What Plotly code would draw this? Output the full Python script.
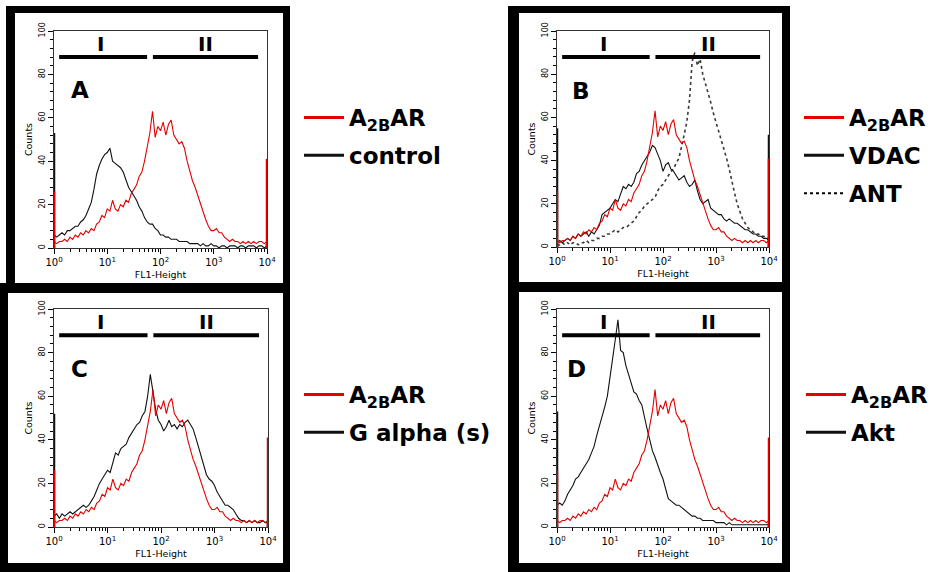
import math
import plotly.graph_objects as go

W, H = 942, 572

# histogram channels: positions in log10(FL1-Height), 0.05-decade bins
LOG_STEP = 0.05
N_BINS = 81

A2BAR = [3, 2, 3, 3, 4, 3, 5, 4, 6, 5, 7, 6, 8, 7, 9, 8, 11, 12, 15, 14,
         18, 17, 22, 18, 17, 20, 19, 22, 21, 25, 27, 29, 33, 35, 40, 46, 53, 63, 51, 56,
         54, 58, 52, 57, 59, 52, 50, 48, 49, 46, 40, 35, 31, 28, 24, 20, 17, 13, 10, 8,
         8, 9, 7, 7, 5, 4, 3, 4, 3, 3, 2, 3, 2, 3, 2, 3, 2, 3, 3, 2, 3]
CONTROL = [6, 5, 6, 7, 6, 8, 8, 9, 10, 10, 12, 13, 15, 18, 21, 27, 34, 38, 41, 43,
           44, 46, 40, 39, 38, 37, 35, 31, 28, 26, 24, 22, 19, 17, 14, 12, 11, 11, 9, 8,
           6, 6, 5, 5, 4, 4, 4, 3, 3, 3, 3, 2, 2, 2, 2, 1, 2, 1, 1, 2,
           1, 1, 0, 1, 1, 0, 1, 1, 1, 0, 1, 1, 0, 1, 1, 1, 0, 1, 1, 0, 1]
VDAC = [2, 3, 2, 3, 4, 3, 5, 4, 6, 5, 6, 7, 5, 7, 6, 8, 10, 15, 16, 17,
        18, 20, 22, 21, 25, 28, 27, 29, 28, 30, 34, 35, 38, 40, 42, 44, 47, 46, 43, 40,
        35, 38, 39, 36, 35, 33, 31, 32, 33, 30, 28, 29, 31, 26, 22, 20, 21, 22, 18, 17,
        16, 15, 15, 13, 12, 13, 12, 11, 11, 10, 9, 8, 8, 7, 6, 6, 5, 5, 4, 4, 3]
ANT = [1, 1, 2, 1, 2, 1, 2, 2, 1, 2, 2, 3, 2, 3, 3, 4, 4, 5, 5, 6,
       6, 7, 8, 7, 8, 9, 9, 10, 11, 12, 14, 16, 17, 19, 20, 21, 22, 23, 26, 28,
       29, 31, 33, 35, 36, 39, 41, 46, 52, 58, 68, 86, 90, 84, 87, 80, 76, 71, 67, 62,
       58, 54, 49, 45, 41, 36, 30, 25, 20, 16, 13, 11, 9, 8, 7, 6, 6, 5, 5, 4, 4]
GALPHA = [5, 6, 4, 6, 5, 6, 7, 6, 7, 8, 9, 10, 9, 10, 12, 14, 17, 20, 22, 24,
          26, 25, 30, 34, 33, 36, 37, 38, 41, 43, 45, 47, 48, 51, 53, 60, 70, 62, 54, 49,
          47, 44, 46, 49, 46, 47, 45, 47, 46, 48, 49, 47, 45, 41, 37, 33, 28, 24, 22, 21,
          19, 16, 14, 12, 10, 10, 9, 8, 6, 4, 3, 3, 2, 3, 2, 3, 2, 2, 3, 2, 2]
AKT = [10, 11, 10, 12, 15, 17, 19, 22, 23, 25, 27, 29, 31, 34, 37, 42, 46, 50, 55, 60,
       68, 76, 86, 95, 81, 80, 74, 70, 66, 62, 61, 58, 56, 50, 45, 40, 35, 32, 28, 25,
       22, 17, 13, 12, 11, 10, 10, 9, 8, 7, 6, 5, 5, 4, 4, 3, 3, 3, 3, 3,
       2, 2, 2, 2, 1, 2, 1, 1, 1, 1, 1, 1, 1, 1, 1, 1, 1, 1, 1, 1, 1]

# off-scale events piled on the first / last channel
EDGE_LOW = {"A2BAR": 26, "control": 53, "VDAC": 55, "ANT": 3, "G alpha (s)": 52, "Akt": 53}
EDGE_HIGH = {"A2BAR": 41, "control": 2, "VDAC": 52, "ANT": 4, "G alpha (s)": 2, "Akt": 2}

# gates
GATE_I = [1.25, 56]
GATE_II = [72, 6800]
GATE_Y = 88
GATE_LABELS = ["I", "II"]
GATE_LABEL_X = [7.5, 710]

PANELS = ["A", "B", "C", "D"]
PANEL_SERIES = {
    "A": ["control"],
    "B": ["ANT", "VDAC"],
    "C": ["G alpha (s)"],
    "D": ["Akt"],
}
SERIES = {"A2BAR": A2BAR, "control": CONTROL, "VDAC": VDAC, "ANT": ANT,
          "G alpha (s)": GALPHA, "Akt": AKT}
LEGEND_NAME = {"A2BAR": "A<sub>2B</sub>AR"}

X_TICKS = [1, 10, 100, 1000, 10000]
X_TICKTEXT = ["10<sup>0</sup>", "10<sup>1</sup>", "10<sup>2</sup>", "10<sup>3</sup>", "10<sup>4</sup>"]
Y_TICKS = [0, 20, 40, 60, 80, 100]

fl1 = [10 ** (i * LOG_STEP) for i in range(N_BINS)]

RED = "#e30000"
BLACK = "#111111"
GREY = "#3a3a3a"


def px(x):
    return x / W


def py(y):
    return 1 - y / H


# plot areas (pixels: left, right, top, bottom)
AREAS = {
    "A": (54, 267, 31, 248),
    "B": (557, 769, 31, 247),
    "C": (54, 268, 309, 527),
    "D": (557, 769, 309, 527),
}
LETTER_POS = {"A": (0.49, 72.8), "B": (0.45, 72), "C": (0.47, 72.7), "D": (0.377, 72.5)}
LEGEND_POS = {"A": (299, 96), "B": (799, 96), "C": (299, 373), "D": (801, 373)}

fig = go.Figure()
annotations = []
shapes = []

# frames
FRAMES = [
    ((6, 290, 6, 292), (15, 283, 13, 283)),
    ((0, 290, 283, 572), (8, 283, 293, 563)),
    ((508, 790, 6, 292), (519, 782, 13, 282)),
    ((508, 790, 283, 572), (519, 782, 292, 563)),
]
for outer, inner in FRAMES:
    for (x0, x1, y0, y1), col in ((outer, "black"), (inner, "white")):
        shapes.append(dict(type="rect", xref="paper", yref="paper",
                           x0=px(x0), x1=px(x1), y0=py(y1), y1=py(y0),
                           fillcolor=col, line=dict(width=0), layer="below"))

layout_axes = {}
for k, p in enumerate(PANELS):
    idx = "" if k == 0 else str(k + 1)
    xa, ya = "x" + idx, "y" + idx
    leg = "legend" + idx
    l, r, t, b = AREAS[p]

    names = PANEL_SERIES[p] + ["A2BAR"]
    for name in names:
        vals = SERIES[name]
        is_red = name == "A2BAR"
        col = RED if is_red else (GREY if name == "ANT" else BLACK)
        dash = "dot" if name == "ANT" else "solid"
        width = 1.6 if name == "ANT" else 1.1
        rank = 1 if is_red else (3 if name == "ANT" else 2)
        group = p + name
        fig.add_trace(go.Scatter(
            x=fl1, y=vals, mode="lines", name=LEGEND_NAME.get(name, name),
            line=dict(color=col, width=width, dash=dash),
            xaxis=xa, yaxis=ya, showlegend=False,
            legendgroup=group, hoverinfo="x+y+name"))
        # legend key (thicker sample line, as in the figure key)
        fig.add_trace(go.Scatter(
            x=[None], y=[None], mode="lines", name=LEGEND_NAME.get(name, name),
            line=dict(color="black" if name == "ANT" else col,
                      width=2.2 if name == "ANT" else 3, dash=dash),
            xaxis=xa, yaxis=ya, legend=leg, legendrank=rank,
            legendgroup=group, hoverinfo="skip"))
        # off-scale piles at both ends
        for xe, ve in ((fl1[0], EDGE_LOW[name]), (fl1[-1], EDGE_HIGH[name])):
            fig.add_trace(go.Scatter(
                x=[xe, xe], y=[0, ve], mode="lines", showlegend=False,
                legendgroup=group,
                line=dict(color=col, width=2.5), xaxis=xa, yaxis=ya, hoverinfo="skip"))

    # gates
    for gate, lab, lx in zip((GATE_I, GATE_II), GATE_LABELS, GATE_LABEL_X):
        fig.add_trace(go.Scatter(
            x=gate, y=[GATE_Y, GATE_Y], mode="lines", showlegend=False,
            line=dict(color="black", width=4), xaxis=xa, yaxis=ya, hoverinfo="skip"))
        annotations.append(dict(
            x=math.log10(lx), y=94, xref=xa, yref=ya, text="<b>%s</b>" % lab,
            showarrow=False, font=dict(family="DejaVu Sans", size=20, color="black")))

    lx_, ly_ = LETTER_POS[p]
    annotations.append(dict(
        x=lx_, y=ly_, xref=xa, yref=ya, text="<b>%s</b>" % p, showarrow=False,
        font=dict(family="DejaVu Sans", size=23, color="black")))

    layout_axes["xaxis" + idx] = dict(
        domain=[px(l), px(r)], anchor=ya, type="log", range=[0, 4], automargin=True,
        tickmode="array", tickvals=X_TICKS, ticktext=X_TICKTEXT,
        ticks="outside", ticklen=5, tickcolor="black", tickwidth=1,
        minor=dict(tickmode="array",
                   tickvals=[m * 10 ** d for d in range(4) for m in range(2, 10)],
                   ticks="outside", ticklen=3, tickcolor="black", showgrid=False),
        showgrid=False, zeroline=False, showline=True, linecolor="#333333",
        linewidth=1, mirror=True,
        tickfont=dict(family="DejaVu Sans", size=10, color="black"),
        title=dict(text="FL1-Height", standoff=4,
                   font=dict(family="DejaVu Sans", size=9.5, color="black")))
    layout_axes["yaxis" + idx] = dict(
        domain=[py(b), py(t)], anchor=xa, range=[0, 100], automargin=True,
        tickmode="array", tickvals=Y_TICKS, tickangle=-90,
        ticks="outside", ticklen=5, tickcolor="black", tickwidth=1,
        minor=dict(dtick=4, ticks="outside", ticklen=3, tickcolor="black", showgrid=False),
        showgrid=False, zeroline=False, showline=True, linecolor="#333333",
        linewidth=1, mirror=True,
        tickfont=dict(family="DejaVu Sans", size=8, color="black"),
        title=dict(text="Counts", standoff=3,
                   font=dict(family="DejaVu Sans", size=9.5, color="black")))
    gx, gy = LEGEND_POS[p]
    layout_axes["legend" + idx] = dict(
        x=px(gx), y=py(gy), xanchor="left", yanchor="top",
        bgcolor="rgba(0,0,0,0)", borderwidth=0, traceorder="grouped",
        tracegroupgap=5, itemwidth=40,
        font=dict(family="DejaVu Sans", size=23, color="black", weight="bold"))

fig.update_layout(
    width=W, height=H, margin=dict(l=0, r=0, t=0, b=0, autoexpand=False),
    paper_bgcolor="white", plot_bgcolor="rgba(0,0,0,0)",
    shapes=shapes, annotations=annotations, **layout_axes)

fig.write_html("out.html", config={"displayModeBar": False},
               post_script="document.body.style.margin='0';")
